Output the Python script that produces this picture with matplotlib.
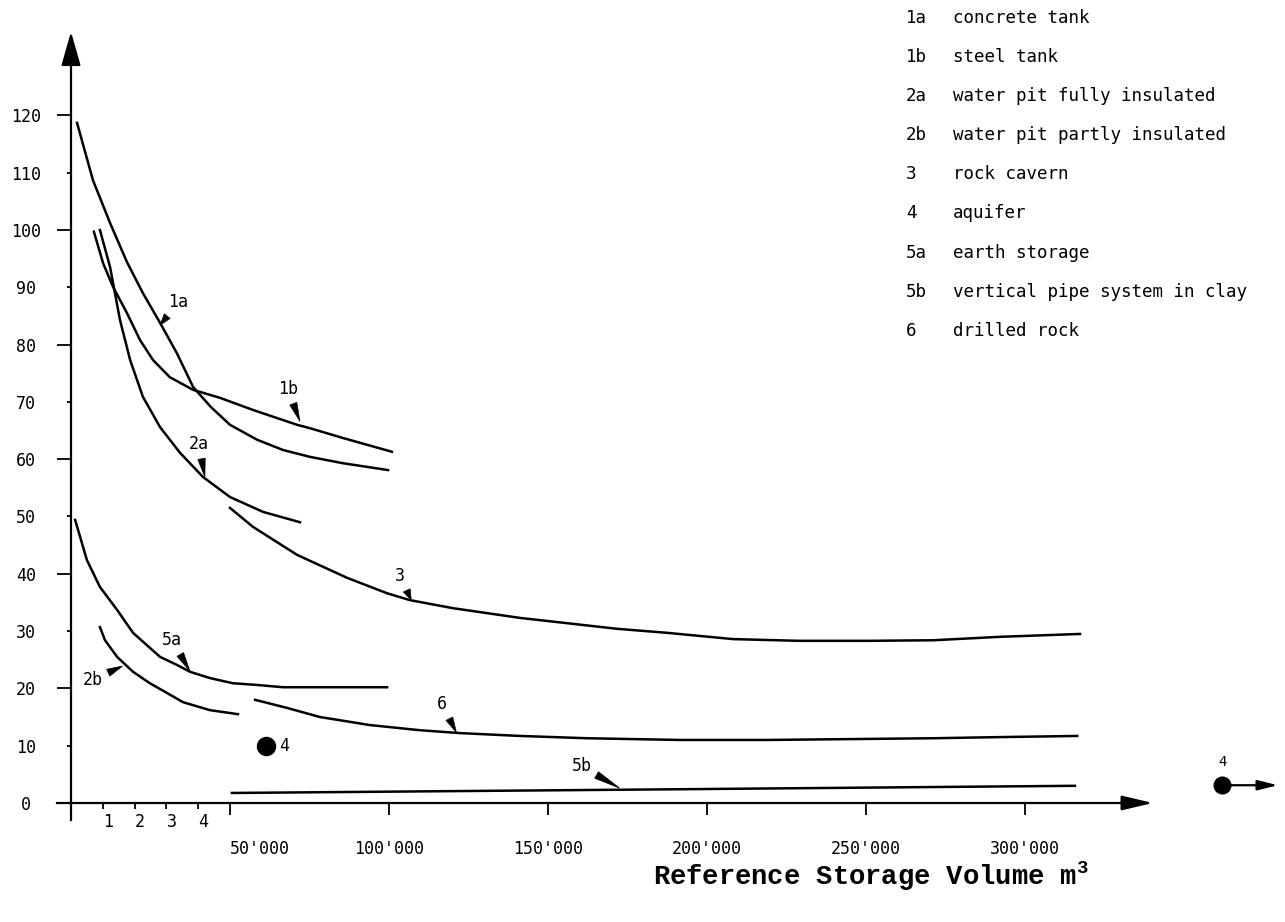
import matplotlib.pyplot as plt

plt.rcParams['font.family'] = ['DejaVu Sans Mono', 'DejaVu Sans']
plt.rcParams['mathtext.default'] = 'regular'

# reference storage volume (m3) vs specific cost
vol_1a = [1900, 6900, 12300, 17600, 22600, 28000, 33300, 38400, 44000, 50000,
          58500, 66700, 75200, 85500, 99700]
cost_1a = [118.7, 108.7, 101.2, 94.4, 89.0, 83.8, 78.5, 72.6, 69.1, 66.0,
           63.4, 61.6, 60.4, 59.3, 58.1]

vol_1b = [7200, 10100, 13200, 17600, 21700, 25800, 31100, 38400, 46900, 57200,
          71100, 75200, 85500, 100900]
cost_1b = [99.7, 94.2, 90.1, 85.5, 80.8, 77.3, 74.3, 72.1, 70.7, 68.6,
           66.0, 65.4, 63.7, 61.3]

vol_2a = [9100, 12300, 15400, 18600, 22600, 28000, 34300, 41500, 50000, 60400, 72000]
cost_2a = [100.0, 93.5, 84.3, 77.3, 70.9, 65.6, 61.1, 56.9, 53.4, 50.8, 49.0]

vol_2b = [9100, 10700, 14500, 19500, 24800, 30200, 35200, 43700, 52500]
cost_2b = [30.7, 28.4, 25.5, 22.9, 20.9, 19.2, 17.6, 16.2, 15.5]

vol_3 = [50000, 57200, 71100, 86800, 99400, 106600, 120100, 141200, 171700,
         187400, 208200, 229200, 250300, 271100, 292100, 317300]
cost_3 = [51.5, 48.2, 43.3, 39.3, 36.6, 35.4, 34.0, 32.3, 30.4,
          29.7, 28.6, 28.3, 28.3, 28.4, 29.0, 29.5]

vol_5a = [1300, 5000, 9100, 14500, 19500, 28000, 33300, 37400, 43700, 50900,
          58500, 66700, 77400, 99400]
cost_5a = [49.4, 42.4, 37.7, 33.7, 29.7, 25.5, 24.1, 22.9, 21.8, 20.9,
           20.6, 20.2, 20.2, 20.2]

vol_5b = [50600, 191500, 315700]
cost_5b = [1.75, 2.4, 3.0]

vol_6 = [57900, 67900, 78300, 94000, 109700, 122300, 141200, 162300,
         191500, 218900, 271100, 292100, 316400]
cost_6 = [18.0, 16.6, 15.0, 13.6, 12.7, 12.2, 11.7, 11.3,
          11.0, 11.0, 11.3, 11.5, 11.7]

vol_4 = 61300
cost_4 = 9.9
vol_4_far = 362000   # aquifer, off the scale
cost_4_far = 3.1

legend_codes = ['1a', '1b', '2a', '2b', '3', '4', '5a', '5b', '6']
legend_names = ['concrete tank', 'steel tank', 'water pit fully insulated',
                'water pit partly insulated', 'rock cavern', 'aquifer',
                'earth storage', 'vertical pipe system in clay', 'drilled rock']

yticks_major = [0, 20, 40, 60, 80, 100, 120]
yticks_minor = [10, 30, 50, 70, 90, 110]
xticks_major = [50000, 100000, 150000, 200000, 250000, 300000]
xlabels_major = ["50'000", "100'000", "150'000", "200'000", "250'000", "300'000"]
xticks_minor = [10000, 20000, 30000, 40000]
xlabels_minor = ['1', '2', '3', '4']

W, H = 1285, 922
fig = plt.figure(figsize=(W / 100, H / 100), dpi=100)
ax = fig.add_axes([0, 0, 1, 1])
ax.set_xlim(-22327, 381761)
ax.set_ylim(-20.77, 140.14)

for s in ['top', 'right']:
    ax.spines[s].set_visible(False)
ax.spines['left'].set_position(('data', 0))
ax.spines['bottom'].set_position(('data', 0))
ax.spines['left'].set_bounds(-3, 130)
ax.spines['bottom'].set_bounds(-4400, 334000)
ax.spines['left'].set_linewidth(1.6)
ax.spines['bottom'].set_linewidth(1.6)

arrow_kw = dict(color='black', lw=1.6, shrinkA=0, shrinkB=0)
ax.annotate('', xy=(0, 134.6), xytext=(0, 129),
            arrowprops=dict(arrowstyle='-|>,head_length=2.1,head_width=0.6', **arrow_kw))
ax.annotate('', xy=(340200, 0), xytext=(333000, 0),
            arrowprops=dict(arrowstyle='-|>,head_length=1.9,head_width=0.45', **arrow_kw))

# y ticks
ax.set_yticks(yticks_major, [str(v) for v in yticks_major])
ax.set_yticks(yticks_minor, [str(v) for v in yticks_minor], minor=True)
ax.tick_params(axis='y', which='major', direction='out', length=10, width=1.3,
               pad=22.4, labelsize=12)
ax.tick_params(axis='y', which='minor', direction='out', length=3, width=1.3,
               pad=29.4, labelsize=12)
for lbl in ax.get_yticklabels() + ax.get_yticklabels(minor=True):
    lbl.set_ha('center')

# x ticks
ax.set_xticks(xticks_major, xlabels_major)
ax.set_xticks(xticks_minor, xlabels_minor, minor=True)
ax.tick_params(axis='x', which='major', direction='out', length=8.6, width=1.3,
               pad=18, labelsize=12)
ax.tick_params(axis='x', which='minor', direction='out', length=4.3, width=1.3,
               pad=3, labelsize=12)
ax.get_xticklabels()[0].set_ha('left')
for lbl in ax.get_xticklabels(minor=True):
    lbl.set_ha('left')

line_kw = dict(color='black', lw=1.8, solid_joinstyle='round')
ax.plot(vol_1a, cost_1a, **line_kw)
ax.plot(vol_1b, cost_1b, **line_kw)
ax.plot(vol_2a, cost_2a, **line_kw)
ax.plot(vol_2b, cost_2b, **line_kw)
ax.plot(vol_3, cost_3, **line_kw)
ax.plot(vol_5a, cost_5a, **line_kw)
ax.plot(vol_5b, cost_5b, **line_kw)
ax.plot(vol_6, cost_6, **line_kw)

ax.plot(vol_4, cost_4, 'o', color='black', ms=13)
ax.text(vol_4 + 4000, cost_4, '4', va='center', ha='left', fontsize=12)

ax.plot(vol_4_far, cost_4_far, 'o', color='black', ms=12, clip_on=False)
ax.annotate('', xy=(379500, cost_4_far), xytext=(vol_4_far, cost_4_far),
            arrowprops=dict(arrowstyle='-|>,head_length=1.2,head_width=0.3', **arrow_kw))
ax.text(vol_4_far, cost_4_far + 2.8, '4', ha='center', va='bottom', fontsize=10)

# curve tags with wedge pointers: (text, text position, curve point)
tags = [
    ('1a', (33800, 87.4), (28000, 83.4)),
    ('1b', (68200, 72.2), (72000, 66.6)),
    ('2a', (40200, 62.6), (42100, 56.9)),
    ('3', (103500, 39.6), (107000, 35.4)),
    ('5a', (31800, 28.4), (37400, 23.0)),
    ('2b', (6900, 21.5), (16200, 23.9)),
    ('6', (116700, 17.2), (121200, 12.3)),
    ('5b', (160500, 6.4), (172500, 2.6)),
]
for txt, tpos, cpos in tags:
    ax.annotate(txt, xy=cpos, xytext=tpos, ha='center', va='center', fontsize=12,
                arrowprops=dict(arrowstyle='wedge,tail_width=0.45', fc='black',
                                ec='black', lw=0.5, shrinkA=2, shrinkB=0))

# key at the top right
for i, (code, name) in enumerate(zip(legend_codes, legend_names)):
    y = 1 - (18 + i * 39.1) / H
    fig.text(906 / W, y, code, ha='left', va='center', fontsize=12.6)
    fig.text(953 / W, y, name, ha='left', va='center', fontsize=12.6)

fig.text(653 / W, 1 - 876 / H, 'Reference Storage Volume m$^3$',
         family='Liberation Mono', weight='bold', fontsize=19.5, ha='left', va='center')

fig.savefig('out.png', dpi=100)
